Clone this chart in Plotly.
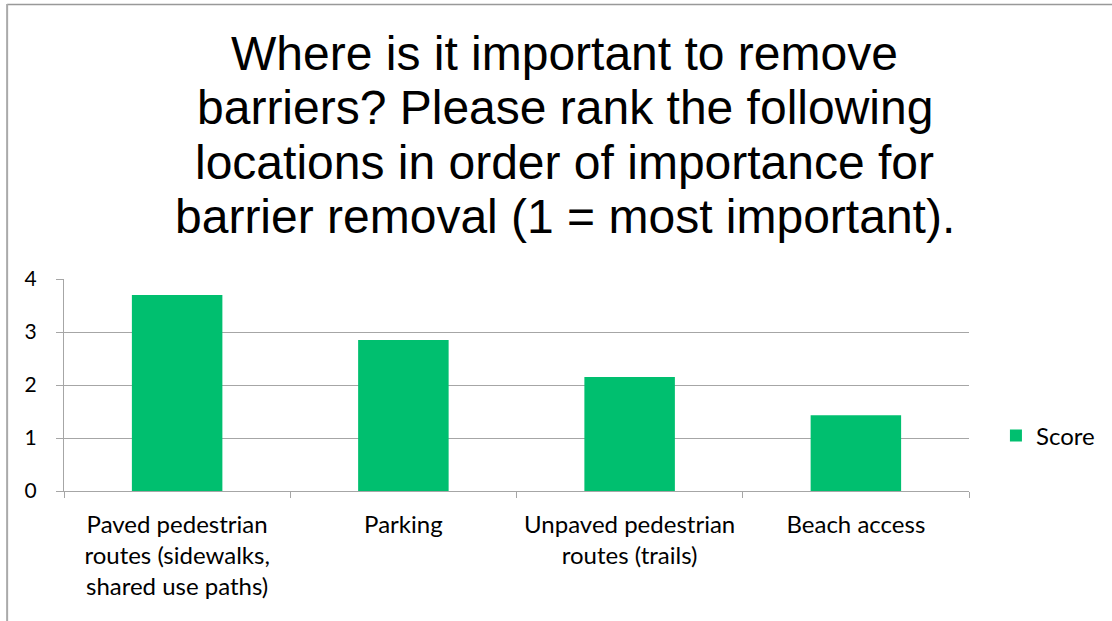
import plotly.graph_objects as go

categories = ["Paved pedestrian<br>routes (sidewalks,<br>shared use paths)",
              "Parking",
              "Unpaved pedestrian<br>routes (trails)",
              "Beach access"]
scores = [3.70, 2.85, 2.15, 1.43]
series_name = "Score"
title_lines = ["Where is it important to remove",
               "barriers? Please rank the following",
               "locations in order of importance for",
               "barrier removal (1 = most important)."]

W, H = 1112, 621
L, R, T, B = 64, 141, 279, 130
pw, ph = W - L - R, H - T - B

def px_x(p):
    return (p - L) / pw

def px_y(p):
    return (H - B - p) / ph

grid = "#a6a6a6"
lab_font = dict(family="Lato, 'Open Sans', sans-serif", size=24, color="#000000")
ytick_font = dict(family="Lato, 'Open Sans', sans-serif", size=21, color="#000000")

fig = go.Figure()
fig.add_trace(go.Bar(x=categories, y=scores, name=series_name,
                     marker=dict(color="#00bf6f", line=dict(width=0)),
                     showlegend=True))

fig.update_layout(
    width=W, height=H,
    margin=dict(l=L, r=R, t=T, b=B, pad=0),
    paper_bgcolor="white", plot_bgcolor="white",
    bargap=0.6,
    showlegend=True,
    legend=dict(x=px_x(998), y=px_y(436), xanchor="left", yanchor="middle",
                font=lab_font, bgcolor="rgba(0,0,0,0)", itemwidth=30),
    xaxis=dict(type="category", showgrid=False, showline=True, linecolor=grid, linewidth=1,
               ticks="outside", tickson="boundaries", ticklen=6, tickcolor=grid,
               tickfont=lab_font, ticklabelstandoff=12),
    yaxis=dict(range=[0, 4], tickvals=[0, 1, 2, 3, 4], showgrid=True, gridcolor=grid, gridwidth=1,
               zeroline=False, showline=True, linecolor=grid, linewidth=1,
               ticks="outside", ticklen=7, tickcolor=grid, tickfont=ytick_font,
               ticklabelstandoff=15),
)

# title, one annotation per line (tight Excel-like line spacing)
for i, line in enumerate(title_lines):
    base = 69 + 54.5 * i
    fig.add_annotation(text=line, xref="paper", yref="paper",
                       x=px_x(566), y=px_y(base - 16), xanchor="center", yanchor="middle",
                       showarrow=False,
                       font=dict(family="Liberation Sans, Arial, sans-serif", size=48,
                                 color="#000000"))

# chart-area border (top and left visible)
fig.add_shape(type="line", xref="paper", yref="paper",
              x0=px_x(7), x1=px_x(W + 5), y0=px_y(4.5), y1=px_y(4.5),
              line=dict(color="#999999", width=1.5))
fig.add_shape(type="line", xref="paper", yref="paper",
              x0=px_x(7), x1=px_x(7), y0=px_y(4), y1=px_y(H + 5),
              line=dict(color="#aaaaaa", width=2))

fig.write_html("out.html", config={"displayModeBar": False},
               post_script="document.body.style.margin='0';")
